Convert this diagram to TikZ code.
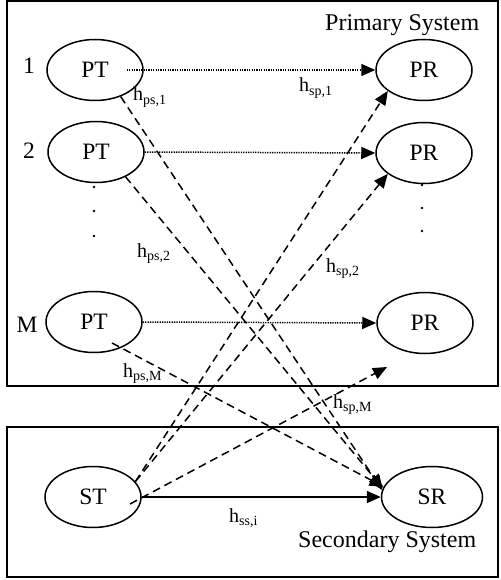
\documentclass[tikz,border=0pt]{standalone}
\usepackage{fontspec}
\setmainfont{Liberation Serif}
\usetikzlibrary{shapes.geometric,arrows.meta}
\begin{document}
\begin{tikzpicture}[x=1pt,y=-1pt,
  node/.style={draw,ellipse,line width=1.5pt,minimum width=96pt,minimum height=61pt,inner sep=0pt,font=\fontsize{23.5}{26}\selectfont},
  big/.style={font=\fontsize{23.5}{26}\selectfont,inner sep=0pt,anchor=base},
  sys/.style={font=\fontsize{24}{28}\selectfont,inner sep=0pt,anchor=base west},
  hl/.style={font=\fontsize{20}{22}\selectfont,inner sep=0pt,anchor=base west},
  tip/.style={-{Triangle[length=14pt,width=12pt]}},
  dotline/.style={tip,line width=1.5pt,dash pattern=on 1.3pt off 1.1pt},
  dashline/.style={tip,line width=1.5pt,dash pattern=on 8pt off 5pt},
  solidline/.style={tip,line width=1.5pt},
  boxline/.style={draw,line width=1.6pt},
  dotmark/.style={fill,circle,inner sep=0pt,minimum size=2.6pt}
]
\useasboundingbox (0,0) rectangle (500,580);
\fill[white] (0,0) rectangle (500,580);
% boxes
\draw[boxline] (7,1) rectangle (498,386);
\draw[boxline] (7,427) rectangle (498,577);
% nodes
\node[node] (PT1) at (95,70) {PT};
\node[node] (PT2) at (96,152) {PT};
\node[node] (PTM) at (94,322) {PT};
\node[node] (PR1) at (424,70) {PR};
\node[node] (PR2) at (424,153) {PR};
\node[node] (PRM) at (425,323) {PR};
\node[node] (ST) at (93,497) {ST};
\node[node,minimum width=101pt] (SR) at (432,497) {SR};
\coordinate (PMend) at (387,367);
% index labels
\node[big] (n1) at (29,74) {1};
\node[big] (n2) at (29,159) {2};
\node[big] (nM) at (27,332) {M};
\node[sys] (prim) at (325,31) {Primary System};
\node[sys] (sec) at (298,547) {Secondary System};
% vertical dots
\node[dotmark] (d1) at (94,187) {};
\node[dotmark] (d2) at (94,211) {};
\node[dotmark] (d3) at (94,236) {};
\node[dotmark] (d4) at (422,185) {};
\node[dotmark] (d5) at (422,208) {};
\node[dotmark] (d6) at (422,231) {};
% dotted primary links
\draw[dotline] ([xshift=-17pt]PT1.east) -- (PR1.west);
\draw[dotline] (PT2.east) -- (PR2.west);
\draw[dotline] (PTM.east) -- (PRM.west);
% dashed interference links to SR
\draw[dashline] (PT1.-46) -- (SR.172);
\draw[dashline] (PT2.-40) -- (SR.170);
\draw[dashline] ([shift={(18,21)}]PTM.center) -- (SR.168);
% dashed interference links from ST
\draw[dashline] (ST.20) -- (PR1.210);
\draw[dashline] (ST.20) -- (PR2.210);
\draw[dashline] ([shift={(37,7)}]ST.center) -- (PMend);
% secondary link
\draw[solidline] (ST.east) -- (SR.west);
% channel labels
\node[hl] (hps1) at (133,101) {h\textsubscript{ps,1}};
\node[hl] (hsp1) at (299,92) {h\textsubscript{sp,1}};
\node[hl] (hps2) at (137,257) {h\textsubscript{ps,2}};
\node[hl] (hsp2) at (326,272) {h\textsubscript{sp,2}};
\node[hl] (hpsM) at (123,377) {h\textsubscript{ps,M}};
\node[hl] (hspM) at (333,408) {h\textsubscript{sp,M}};
\node[hl] (hssi) at (229,522) {h\textsubscript{ss,i}};
\end{tikzpicture}
\end{document}
